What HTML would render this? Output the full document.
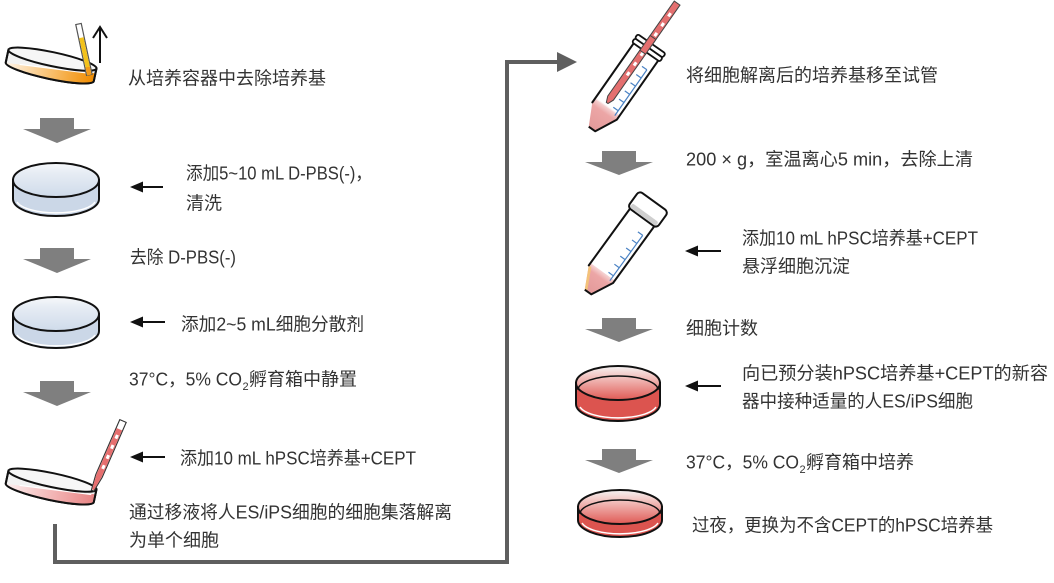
<!DOCTYPE html>
<html><head><meta charset="utf-8">
<style>
html,body{margin:0;padding:0;background:#fff;}
svg{display:block}
text{font-family:"Liberation Sans","Noto Sans CJK SC",sans-serif;font-size:18px;fill:#333;}
</style></head><body>
<svg width="1054" height="583" viewBox="0 0 1054 583" xmlns="http://www.w3.org/2000/svg">
<defs>
 <linearGradient id="blueTop" x1="0" y1="0" x2="0" y2="1">
  <stop offset="0" stop-color="#f7f9fb"/><stop offset="0.3" stop-color="#e6ecf4"/><stop offset="1" stop-color="#cfdbea"/>
 </linearGradient>
 <linearGradient id="redTop" x1="0" y1="0" x2="0" y2="1">
  <stop offset="0" stop-color="#f4f4f4"/><stop offset="0.28" stop-color="#f3c9c6"/><stop offset="1" stop-color="#e05a55"/>
 </linearGradient>
 <linearGradient id="orangeLiq" x1="0" y1="0" x2="1" y2="0">
  <stop offset="0" stop-color="#fef3e6"/><stop offset="0.55" stop-color="#f8bc66"/><stop offset="1" stop-color="#f08c00"/>
 </linearGradient>
 <linearGradient id="pinkLiq" x1="0" y1="0" x2="1" y2="0">
  <stop offset="0" stop-color="#fcefef"/><stop offset="0.55" stop-color="#f2b4b4"/><stop offset="1" stop-color="#e88585"/>
 </linearGradient>
 <linearGradient id="tubeLiq" x1="0" y1="0" x2="0" y2="1">
  <stop offset="0" stop-color="#f6d6d6"/><stop offset="0.25" stop-color="#eca6a6"/><stop offset="1" stop-color="#e49a9a"/>
 </linearGradient>
</defs>

<!-- connector -->
<path d="M55,524 L55,562 L507,562 L507,62 L560,62" fill="none" stroke="#5f5f5f" stroke-width="4"/>
<polygon points="557,52 577,62 557,72" fill="#5f5f5f"/>

<!-- gray block arrows -->
<g fill="#7f7f7f">
 <path d="M40,118 L74,118 L74,129 L91,129 L57,143 L23,129 L40,129 Z"/>
 <path d="M40,248 L74,248 L74,259 L91,259 L57,273 L23,259 L40,259 Z"/>
 <path d="M40,381 L74,381 L74,392 L91,392 L57,406 L23,392 L40,392 Z"/>
 <path d="M602,151 L636,151 L636,162 L653,162 L619,175 L585,162 L602,162 Z"/>
 <path d="M602,318 L636,318 L636,329 L653,329 L619,342 L585,329 L602,329 Z"/>
 <path d="M602,449 L636,449 L636,460 L653,460 L619,473 L585,460 L602,460 Z"/>
</g>

<!-- small black arrows -->
<g stroke="#111" stroke-width="2" fill="#111">
 <line x1="140" y1="187" x2="163" y2="187"/><polygon points="130,187 143,181.5 143,192.5" stroke="none"/>
 <line x1="140" y1="322" x2="165" y2="322"/><polygon points="130,322 143,316.5 143,327.5" stroke="none"/>
 <line x1="140" y1="457" x2="165" y2="457"/><polygon points="130,457 143,451.5 143,462.5" stroke="none"/>
 <line x1="695" y1="251" x2="721" y2="251"/><polygon points="685,251 698,245.5 698,256.5" stroke="none"/>
 <line x1="695" y1="386" x2="721" y2="386"/><polygon points="685,386 698,380.5 698,391.5" stroke="none"/>
</g>

<!-- dish 1 tilted orange -->
<g transform="rotate(12 51 66)">
 <path d="M6,59 L6,72 A45,7 0 0 0 96,72 L96,59 Z" fill="#f2f2f2" stroke="#111" stroke-width="2"/>
 <path d="M9,72 Q50,69 95,64 L95,72 A44,6.5 0 0 1 7,72 Z" fill="url(#orangeLiq)"/>
 <path d="M20,71 Q55,68 92,65" stroke="#fff" stroke-width="1.2" fill="none"/>
 <path d="M6,72 A45,7 0 0 0 96,72" fill="none" stroke="#111" stroke-width="2"/>
 <line x1="6" y1="59" x2="6" y2="72" stroke="#111" stroke-width="2"/>
 <line x1="96" y1="59" x2="96" y2="72" stroke="#111" stroke-width="2"/>
 <ellipse cx="51" cy="59" rx="45" ry="7" fill="#f6f6f6" stroke="#111" stroke-width="2"/>
</g>
<!-- yellow pipette -->
<g transform="translate(78.5,24) rotate(-12)">
 <rect x="-2.8" y="0" width="5.6" height="52" fill="#fff" stroke="#555" stroke-width="1.2"/>
 <rect x="-2.2" y="14" width="4.4" height="38" fill="#f3c21b"/>
 <rect x="-2.2" y="44" width="4.4" height="8" fill="#f29a1a"/>
</g>
<!-- up arrow -->
<g stroke="#111" stroke-width="2" fill="none">
 <line x1="100" y1="63" x2="100" y2="28"/>
 <polyline points="93,38 100,27 107,38"/>
</g>

<!-- dish 2 blue -->
<path d="M13,180 L13,199 A43,17 0 0 0 99,199 L99,180 Z" fill="#cbd7e7" stroke="#111" stroke-width="2"/>
<path d="M17,202 A40,14 0 0 0 95,202" stroke="#fff" stroke-width="1.5" fill="none"/>
<ellipse cx="56" cy="180" rx="43" ry="17" fill="url(#blueTop)" stroke="#111" stroke-width="2"/>

<!-- dish 3 blue -->
<path d="M13,314 L13,331 A43,17 0 0 0 99,331 L99,314 Z" fill="#cbd7e7" stroke="#111" stroke-width="2"/>
<path d="M17,335 A40,14 0 0 0 95,335" stroke="#fff" stroke-width="1.5" fill="none"/>
<ellipse cx="56" cy="314" rx="43" ry="17" fill="url(#blueTop)" stroke="#111" stroke-width="2"/>

<!-- dish 4 tilted pink -->
<g transform="translate(0,421) rotate(12 51 66)">
 <path d="M6,59 L6,72 A45,7 0 0 0 96,72 L96,59 Z" fill="#f2f2f2" stroke="#111" stroke-width="2"/>
 <path d="M9,72 Q50,69 95,64 L95,72 A44,6.5 0 0 1 7,72 Z" fill="url(#pinkLiq)"/>
 <path d="M20,71 Q55,68 92,65" stroke="#fff" stroke-width="1.2" fill="none"/>
 <path d="M6,72 A45,7 0 0 0 96,72" fill="none" stroke="#111" stroke-width="2"/>
 <line x1="6" y1="59" x2="6" y2="72" stroke="#111" stroke-width="2"/>
 <line x1="96" y1="59" x2="96" y2="72" stroke="#111" stroke-width="2"/>
 <ellipse cx="51" cy="59" rx="45" ry="7" fill="#f6f6f6" stroke="#111" stroke-width="2"/>
</g>
<!-- red pipette -->
<g transform="translate(123,421) rotate(23.6)">
 <path d="M-3.5,0 L3.5,0 L3.5,60 L1.3,76 L-1.3,76 L-3.5,60 Z" fill="#fff" stroke="#333" stroke-width="1.1"/>
 <path d="M-2.9,9 L2.9,9 L2.9,60 L1,75 L-1,75 L-2.9,60 Z" fill="#e66f6f"/>
 <g fill="#fff"><rect x="-1" y="15" width="3" height="4"/><rect x="-1" y="26" width="3" height="4"/><rect x="-1" y="37" width="3" height="4"/><rect x="-1" y="48" width="3" height="4"/></g>
</g>

<!-- tube 1 -->
<g transform="translate(592,129) rotate(35)">
 <path d="M-4,0 L4,0 L15,-22 L15,-98 L-15,-98 L-15,-22 Z" fill="#fff"/>
 <path d="M-4,0 L4,0 L15,-22 L15,-27 L-15,-27 L-15,-22 Z" fill="url(#tubeLiq)"/>
 <line x1="-15" y1="-27" x2="15" y2="-27" stroke="#fbeaea" stroke-width="1"/>
 <g stroke="#4a82c4" stroke-width="1.2">
  <line x1="11" y1="-24" x2="11" y2="-80"/>
  <line x1="5" y1="-30" x2="11" y2="-30"/><line x1="5" y1="-40" x2="11" y2="-40"/>
  <line x1="5" y1="-50" x2="11" y2="-50"/><line x1="5" y1="-60" x2="11" y2="-60"/>
  <line x1="5" y1="-70" x2="11" y2="-70"/><line x1="5" y1="-80" x2="11" y2="-80"/>
 </g>
 <path d="M-6,-152 L1,-152 L1,-36 L-1.5,-30 L-3.5,-30 L-6,-36 Z" fill="#e46f6f" stroke="#444" stroke-width="1"/>
 <g fill="#fff"><rect x="-3.5" y="-140" width="3" height="4"/><rect x="-3.5" y="-128" width="3" height="4"/><rect x="-3.5" y="-116" width="3" height="4"/><rect x="-3.5" y="-104" width="3" height="4"/><rect x="-3.5" y="-92" width="3" height="4"/><rect x="-3.5" y="-80" width="3" height="4"/><rect x="-3.5" y="-68" width="3" height="4"/></g>
 <path d="M-4,0 L4,0 L15,-22 L15,-98 M-15,-98 L-15,-22 Z" fill="none" stroke="#111" stroke-width="2" stroke-linejoin="round"/>
 <rect x="-17" y="-99" width="34" height="5" rx="2" fill="#fff" stroke="#111" stroke-width="1.8"/>
 <rect x="-17" y="-104" width="34" height="5" rx="2" fill="#fff" stroke="#111" stroke-width="1.8"/>
 <rect x="-6" y="-110" width="7" height="18" fill="#e46f6f" stroke="#444" stroke-width="1"/>
</g>

<!-- tube 2 -->
<g transform="translate(588,292) rotate(36)">
 <path d="M-4,0 L4,0 L15,-22 L15,-92 L-15,-92 L-15,-22 Z" fill="#fff"/>
 <path d="M-4,0 L4,0 L15,-22 L15,-25 L-15,-25 L-15,-22 Z" fill="url(#tubeLiq)"/>
 <path d="M-4,0 L-1,0 L-12,-22 L-15,-22 Z" fill="#f3c27a"/>
 <g stroke="#4a82c4" stroke-width="1.2">
  <line x1="11" y1="-22" x2="11" y2="-78"/>
  <line x1="5" y1="-28" x2="11" y2="-28"/><line x1="5" y1="-38" x2="11" y2="-38"/>
  <line x1="5" y1="-48" x2="11" y2="-48"/><line x1="5" y1="-58" x2="11" y2="-58"/>
  <line x1="5" y1="-68" x2="11" y2="-68"/><line x1="5" y1="-78" x2="11" y2="-78"/>
 </g>
 <path d="M-4,0 L4,0 L15,-22 L15,-92 M-15,-92 L-15,-22 Z" fill="none" stroke="#111" stroke-width="2" stroke-linejoin="round"/>
 <rect x="-18" y="-112" width="36" height="20" rx="4" fill="#fff" stroke="#111" stroke-width="2"/>
 <rect x="-16" y="-98" width="32" height="5" rx="2" fill="#cfcfcf"/>
</g>

<!-- dish 5 red -->
<path d="M576,383 L576,404 A42,17 0 0 0 660,404 L660,383 Z" fill="#dc544f" stroke="#111" stroke-width="2"/>
<path d="M580,407 A39,14 0 0 0 656,407" stroke="#fff" stroke-width="1.5" fill="none"/>
<ellipse cx="618" cy="383" rx="42" ry="17" fill="url(#redTop)" stroke="#111" stroke-width="2"/>
<path d="M578,390 A40,14 0 0 1 658,390" stroke="#111" stroke-width="1.5" fill="none"/>

<!-- dish 6 red -->
<path d="M578,507 L578,520 A42,17 0 0 0 662,520 L662,507 Z" fill="#dc544f" stroke="#111" stroke-width="2"/>
<path d="M582,523 A39,14 0 0 0 658,523" stroke="#fff" stroke-width="1.5" fill="none"/>
<ellipse cx="620" cy="507" rx="42" ry="17" fill="url(#redTop)" stroke="#111" stroke-width="2"/>
<path d="M580,514 A40,14 0 0 1 660,514" stroke="#111" stroke-width="1.5" fill="none"/>

<!-- text left -->
<text x="128" y="84.5">从培养容器中去除培养基</text>
<text x="186" y="179.5" textLength="186" lengthAdjust="spacingAndGlyphs">添加5~10 mL D-PBS(-)，</text>
<text x="186" y="209.5">清洗</text>
<text x="130" y="263.5" textLength="106" lengthAdjust="spacingAndGlyphs">去除 D-PBS(-)</text>
<text x="181" y="330.5" textLength="183" lengthAdjust="spacingAndGlyphs">添加2~5 mL细胞分散剂</text>
<text x="129" y="385.5" textLength="113" lengthAdjust="spacingAndGlyphs">37°C，5% CO</text>
<text x="242.5" y="390" style="font-size:11px">2</text>
<text x="249" y="385.5">孵育箱中静置</text>
<text x="180" y="464.5" textLength="236" lengthAdjust="spacingAndGlyphs">添加10 mL hPSC培养基+CEPT</text>
<text x="129" y="518.5" textLength="323" lengthAdjust="spacingAndGlyphs">通过移液将人ES/iPS细胞的细胞集落解离</text>
<text x="129" y="546.5">为单个细胞</text>

<!-- text right -->
<text x="686" y="81.5">将细胞解离后的培养基移至试管</text>
<text x="686" y="165.5" textLength="287" lengthAdjust="spacingAndGlyphs">200 × g，室温离心5 min，去除上清</text>
<text x="742" y="244.5" textLength="236" lengthAdjust="spacingAndGlyphs">添加10 mL hPSC培养基+CEPT</text>
<text x="742" y="272.5">悬浮细胞沉淀</text>
<text x="686" y="334.5">细胞计数</text>
<text x="742" y="379.5" textLength="306" lengthAdjust="spacingAndGlyphs">向已预分装hPSC培养基+CEPT的新容</text>
<text x="742" y="407.5" textLength="231" lengthAdjust="spacingAndGlyphs">器中接种适量的人ES/iPS细胞</text>
<text x="686" y="468.5" textLength="113" lengthAdjust="spacingAndGlyphs">37°C，5% CO</text>
<text x="799.5" y="473" style="font-size:11px">2</text>
<text x="806" y="468.5">孵育箱中培养</text>
<text x="692" y="531.5" textLength="301" lengthAdjust="spacingAndGlyphs">过夜，更换为不含CEPT的hPSC培养基</text>
</svg>
</body></html>
